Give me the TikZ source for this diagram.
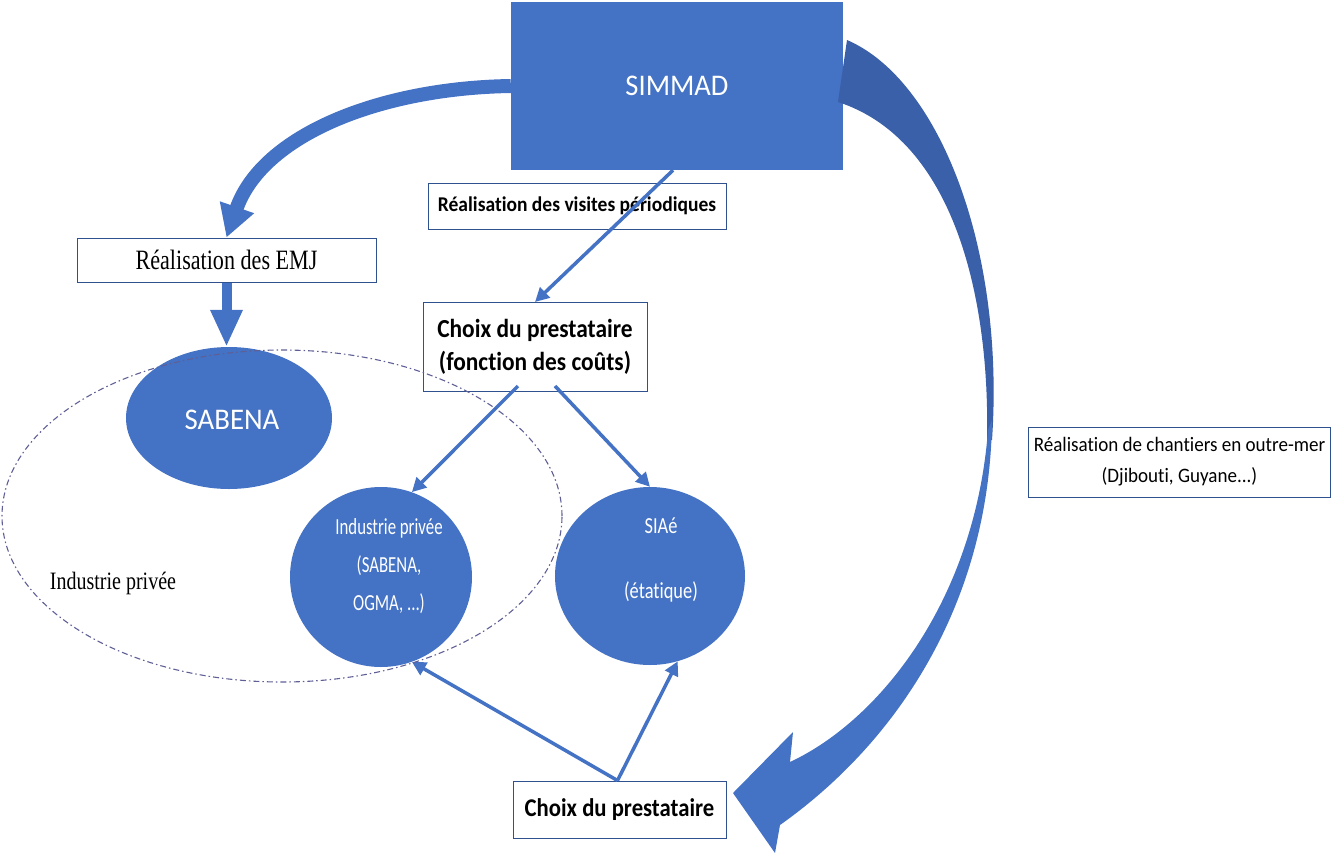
\documentclass[tikz,border=0pt]{standalone}
\usepackage{fontspec}
\setmainfont{Carlito}[Ligatures=NoCommon]
\newfontfamily\tnr{Liberation Serif}
\usetikzlibrary{arrows.meta,shapes.geometric}
\definecolor{mblue}{RGB}{68,114,196}
\definecolor{dblue}{RGB}{58,96,170}
\definecolor{bord}{RGB}{47,82,143}
\definecolor{dashc}{RGB}{95,95,150}
\newcommand\fs[3]{\fontsize{#1}{#2}\selectfont\addfontfeature{FakeStretch=#3}}
\begin{document}
\begin{tikzpicture}[x=1pt,y=-1pt,
  box/.style={draw=bord, line width=1pt, fill=white, inner sep=0pt, align=center, text=black},
  blob/.style={ellipse, fill=mblue, inner sep=0pt},
  wtext/.style={text=white, align=center, inner sep=0pt},
  thinarrow/.style={draw=mblue, line width=3.5pt, -{Triangle[width=14pt,length=14pt]}},
  bigarrow/.style={draw=mblue, line width=14pt, -{Triangle[width=34pt,length=32pt]}},
  downarrow/.style={draw=mblue, line width=10pt, -{Triangle[width=30pt,length=37pt]}},
]
\useasboundingbox (0,0) rectangle (1331,855);

% main box
\node[fill=mblue, minimum width=332pt, minimum height=168pt, inner sep=0pt, text=white,
      font=\fs{30}{34}{0.95}] (simmad) at (677,86) {SIMMAD};

% text boxes
\node[box, minimum width=298pt, minimum height=46pt, font=\bfseries\fs{21}{25}{0.93}]
  (visites) at (577,206) {Réalisation des visites périodiques};
\node[box, minimum width=299pt, minimum height=44pt, font=\tnr\fs{28}{32}{0.79}]
  (emj) at (226.5,260) {Réalisation des EMJ};
\node[box, minimum width=224pt, minimum height=89pt, font=\bfseries\fs{26}{33}{0.9}]
  (choix) at (535,347) {Choix du prestataire\\(fonction des coûts)};
\node[box, minimum width=213pt, minimum height=57pt, font=\bfseries\fs{25.5}{30}{0.89}]
  (bot) at (619.5,809.5) {Choix du prestataire};
\node[box, minimum width=302pt, minimum height=70pt, font=\fs{20.5}{31}{0.93}]
  (outremer) at (1179.5,462) {Réalisation de chantiers en outre-mer\\(Djibouti, Guyane...)};

% ellipses
\node[blob, minimum width=206pt, minimum height=142pt] (sabena) at (229,418) {};
\node[wtext, font=\fs{30}{34}{0.96}] (sabenat) at (232,420) {SABENA};
\node[blob, minimum width=182pt, minimum height=180pt] (ind) at (381,577) {};
\node[wtext, font=\fs{23}{38}{0.73}] (indt) at (389,566) {Industrie privée\\(SABENA,\\OGMA, ...)};
\node[blob, minimum width=190pt, minimum height=178pt] (siae) at (650,576) {};
\node[wtext, font=\fs{23}{65}{0.8}] (siaet) at (661,560) {SIAé\\(étatique)};

\node[inner sep=0pt, font=\tnr\fs{25}{28}{0.8}] (indpriv) at (113,583) {Industrie privée};

% connectors
\coordinate (emjtip) at (emj.north);
\draw[bigarrow] (simmad.west) .. controls (380,88) and (262,135) .. (emjtip);
\draw[downarrow] (emj.south) -- (emj.south |- sabena.north);
\draw[thinarrow] ([xshift=-4pt]simmad.south) -- (choix.north);
\draw[thinarrow] ([xshift=-17pt,yshift=6pt]choix.south) -- (ind.70);
\draw[thinarrow] ([xshift=20pt,yshift=6pt]choix.south) -- (siae.north);
\draw[thinarrow] ([xshift=-2pt]bot.north) -- (ind.-70);
\draw[thinarrow] ([xshift=-2pt]bot.north) -- (siae.-72);

% big ribbon arrow
\fill[dblue] (847,40) .. controls (940,80) and (1005,250) .. (992,440) -- (987,440)
   .. controls (990,300) and (955,140) .. (838,102) -- cycle;
\fill[mblue] (992,420) .. controls (990,600) and (900,740) .. (780,825) -- (775,853) -- (733,793)
   -- (793,732) -- (790,762) .. controls (880,720) and (975,600) .. (988,430) -- cycle;

% dash-dot group ellipse
\node[draw=dashc, line width=1.1pt, dash pattern=on 6pt off 3pt on 1.5pt off 3pt, ellipse,
      minimum width=560pt, minimum height=332pt, inner sep=0pt] (grp) at (282,516) {};
\end{tikzpicture}
\end{document}
